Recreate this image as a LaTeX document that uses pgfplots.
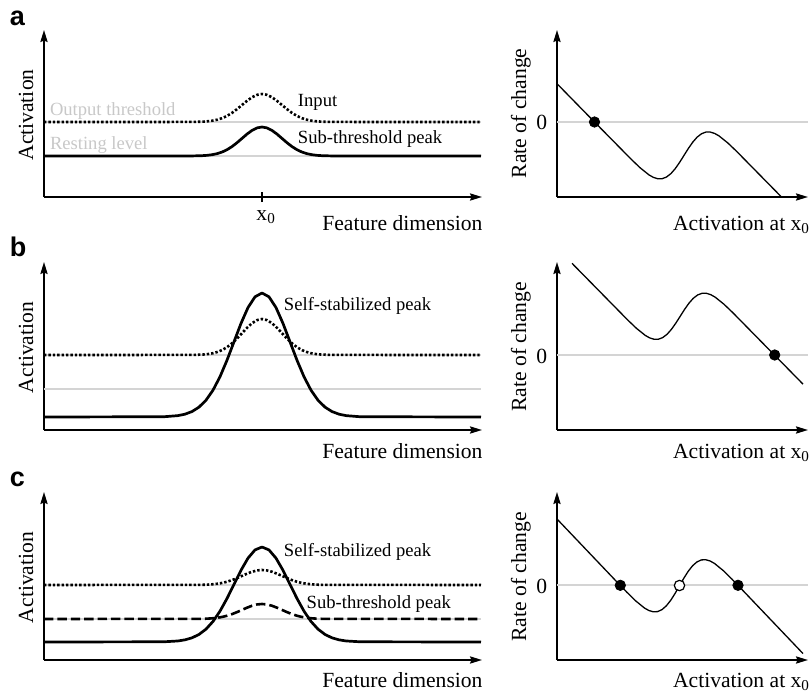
\documentclass[border=0pt]{standalone}
\usepackage{fontspec}
\setmainfont{Liberation Serif}
\setsansfont{Liberation Sans}
\usepackage{pgfplots}
\pgfplotsset{compat=1.18}
\usetikzlibrary{arrows.meta}
\definecolor{lightline}{RGB}{212,212,212}
\definecolor{lighttext}{RGB}{200,200,200}
\newcommand{\axfont}{\fontsize{10.8}{13}\selectfont}
\newcommand{\lblfont}{\fontsize{9.3}{11}\selectfont}
\newcommand{\pfont}{\fontsize{13.5}{16}\selectfont\sffamily\bfseries}
\pgfplotsset{
  panel/.style={scale only axis, axis lines=left, xtick=\empty, ytick=\empty,
    xmin=0, ymin=0, clip=false, anchor=south west,
    axis line style={line width=0.9pt, black},
    x axis line style={-{Stealth[length=6pt,width=3.6pt,inset=0.8pt]}},
    y axis line style={-{Stealth[length=6pt,width=3.6pt,inset=0.8pt]}}},
  leftpanel/.style={panel, width=219pt, xmax=438},
  rightpanel/.style={panel, width=125.5pt, xmax=251},
  grayline/.style={draw=lightline, line width=0.55pt, no marks},
  profile/.style={black, line width=1.35pt, no marks, line join=round},
  dotprof/.style={black, line width=1.3pt, no marks, dash pattern=on 1.2pt off 1pt},
  dashprof/.style={black, line width=1.3pt, no marks, dash pattern=on 4.7pt off 2pt},
  rate/.style={black, line width=0.65pt, no marks, line join=round},
  fixdot/.style={only marks, mark=*, mark size=2.6pt, mark options={fill=black, draw=black}},
  opendot/.style={only marks, mark=*, mark size=2.6pt, mark options={fill=white, draw=black, line width=0.6pt}},
}
\begin{document}
\begin{tikzpicture}
\useasboundingbox (0pt,0pt) rectangle (405.5pt,-345.5pt);

% ---------------- a left
\begin{axis}[leftpanel, at={(22pt,-98.5pt)}, height=83.5pt, ymax=167,
  xtick={218}, xticklabels={}, major tick length=5pt, tick align=center,
  tick style={black, line width=0.9pt}]
\addplot[grayline] coordinates {(0,75) (437,75)};
\addplot[grayline] coordinates {(0,41) (437,41)};
\addplot[dotprof] coordinates {(0,75) (148,75.06) (158,75.31) (163,75.64) (168,76.23) (173,77.23) (178,78.79) (183,81.06) (188,84.09) (193,87.82) (198,91.98) (203,96.13) (208,99.71) (213,102.14) (218,103) (223,102.14) (228,99.71) (233,96.13) (238,91.98) (243,87.82) (248,84.09) (253,81.06) (258,78.79) (263,77.23) (268,76.23) (273,75.64) (278,75.31) (288,75.06) (437,75)};
\addplot[profile] coordinates {(0,41) (148,41.06) (158,41.32) (163,41.66) (168,42.27) (173,43.31) (178,44.92) (183,47.27) (188,50.42) (193,54.28) (198,58.59) (203,62.89) (208,66.59) (213,69.11) (218,70) (223,69.11) (228,66.59) (233,62.89) (238,58.59) (243,54.28) (248,50.42) (253,47.27) (258,44.92) (263,43.31) (268,42.27) (273,41.66) (278,41.32) (288,41.06) (437,41)};
\end{axis}

% ---------------- a right
\begin{axis}[rightpanel, at={(278.5pt,-98.5pt)}, height=83.5pt, ymax=167]
\addplot[grayline] coordinates {(0,75) (251,75)};
\addplot[rate] coordinates {(0,113.3) (37.5,75) (74.5,37.46) (83.25,29.10) (92,22.10) (96.375,19.64) (100.75,18.26) (105.125,18.29) (109.5,19.97) (113.875,23.37) (118.25,28.37) (122.625,34.65) (127,41.61) (131.375,48.57) (135.75,54.84) (140.125,59.85) (144.5,63.25) (148.875,64.93) (153.25,64.95) (157.625,63.58) (162,61.12) (170.75,54.11) (179.5,45.76) (224,0.52)};
\addplot[fixdot] coordinates {(37.5,75)};
\end{axis}

% ---------------- b left
\begin{axis}[leftpanel, at={(22pt,-215pt)}, height=84pt, ymax=168]
\addplot[grayline] coordinates {(0,75) (437,75)};
\addplot[grayline] coordinates {(0,41) (437,41)};
\addplot[dotprof] coordinates {(0,75) (148,75.08) (158,75.40) (163,75.82) (168,76.58) (173,77.87) (178,79.87) (183,82.79) (188,86.69) (193,91.48) (198,96.83) (203,102.17) (208,106.77) (213,109.89) (218,111) (223,109.89) (228,106.77) (233,102.17) (238,96.83) (243,91.48) (248,86.69) (253,82.79) (258,79.87) (263,77.87) (268,76.58) (273,75.82) (278,75.40) (288,75.08) (437,75)};
\addplot[profile] coordinates {(0,13) (120,13.27) (134,14.38) (141,15.83) (148,18.44) (155,22.87) (162,29.78) (169,39.82) (176,53.26) (183,69.77) (190,88.21) (197,106.60) (204,122.43) (211,133.18) (218,137) (225,133.18) (232,122.43) (239,106.60) (246,88.21) (253,69.77) (260,53.26) (267,39.82) (274,29.78) (281,22.87) (288,18.44) (295,15.83) (302,14.38) (316,13.27) (437,13)};
\end{axis}

% ---------------- b right
\begin{axis}[rightpanel, at={(278.5pt,-215pt)}, height=84pt, ymax=168]
\addplot[grayline] coordinates {(0,75) (251,75)};
\addplot[rate] coordinates {(15,166.7) (70.7,110.04) (79.45,101.67) (88.2,94.66) (92.575,92.17) (96.95,90.78) (101.325,90.77) (105.7,92.41) (110.075,95.73) (114.45,100.68) (118.825,106.87) (123.2,113.74) (127.575,120.60) (131.95,126.79) (136.325,131.74) (140.7,135.07) (145.075,136.70) (149.45,136.69) (153.825,135.30) (158.2,132.82) (166.95,125.80) (175.7,117.44) (217.7,74.7) (246,45.88)};
\addplot[fixdot] coordinates {(217.7,75)};
\end{axis}

% ---------------- c left
\begin{axis}[leftpanel, at={(22pt,-330pt)}, height=84pt, ymax=168]
\addplot[grayline] coordinates {(0,75) (437,75)};
\addplot[grayline] coordinates {(0,41) (437,41)};
\addplot[dotprof] coordinates {(0,75) (158,75.17) (163,75.34) (168,75.66) (173,76.19) (178,77.03) (183,78.24) (188,79.87) (193,81.87) (198,84.10) (203,86.32) (208,88.24) (213,89.54) (218,90) (223,89.54) (228,88.24) (233,86.32) (238,84.10) (243,81.87) (248,79.87) (253,78.24) (258,77.03) (263,76.19) (268,75.66) (273,75.34) (278,75.17) (437,75)};
\addplot[dashprof] coordinates {(0,41) (158,41.17) (163,41.34) (168,41.66) (173,42.19) (178,43.03) (183,44.24) (188,45.87) (193,47.87) (198,50.10) (203,52.32) (208,54.24) (213,55.54) (218,56) (223,55.54) (228,54.24) (233,52.32) (238,50.10) (243,47.87) (248,45.87) (253,44.24) (258,43.03) (263,42.19) (268,41.66) (273,41.34) (278,41.17) (437,41)};
\addplot[profile] coordinates {(0,18) (120,18.21) (134,19.05) (141,20.17) (148,22.17) (155,25.56) (162,30.85) (169,38.55) (176,48.85) (183,61.49) (190,75.62) (197,89.71) (204,101.84) (211,110.07) (218,113) (225,110.07) (232,101.84) (239,89.71) (246,75.62) (253,61.49) (260,48.85) (267,38.55) (274,30.85) (281,25.56) (288,22.17) (295,20.17) (302,19.05) (316,18.21) (437,18)};
\end{axis}

% ---------------- c right
\begin{axis}[rightpanel, at={(278.5pt,-330pt)}, height=84pt, ymax=168]
\addplot[grayline] coordinates {(0,75) (251,75)};
\addplot[rate] coordinates {(0,141) (63.3,74.5) (70,67.66) (78.75,59.08) (87.5,51.94) (91.875,49.49) (96.25,48.21) (100.625,48.41) (105,50.39) (109.375,54.20) (113.75,59.74) (118.125,66.63) (122.5,74.25) (126.875,81.87) (131.25,88.76) (135.625,94.30) (140,98.11) (144.375,100.09) (148.75,100.29) (153.125,99.01) (157.5,96.55) (166.25,89.42) (175,80.84) (181,74.64) (246,6.45)};
\addplot[fixdot] coordinates {(63.3,74.7) (181,74.7)};
\addplot[opendot] coordinates {(122.5,74.5)};
\end{axis}

% ---------------- texts (reference pixel coordinates)
\begin{scope}[x=0.5pt, y=-0.5pt, every node/.style={inner sep=0pt, outer sep=0pt}]
\node[anchor=base west, font=\pfont] at (10,25) {a};
\node[anchor=base west, font=\pfont] at (10,256) {b};
\node[anchor=base west, font=\pfont] at (10,486) {c};

\foreach \yc/\yb in {115/230, 347.5/458, 577.5/687}{
  \node[rotate=90, anchor=base, font=\axfont] at (33,\yc) {Activation};
  \node[anchor=base east, font=\axfont] at (482.5,\yb) {Feature dimension};
  \node[anchor=base east, font=\axfont] at (810,\yb) {Activation at x\textsubscript{0}};
}
\foreach \yc in {113.3, 346.7, 576.7}{
  \node[rotate=90, anchor=base, font=\axfont] at (526,\yc) {Rate of change};
}
\node[font=\axfont] at (541.7,122.5) {0};
\node[font=\axfont] at (541.7,356) {0};
\node[font=\axfont] at (541.7,586.3) {0};

\node[anchor=base west, font=\axfont] at (256.5,220) {x\textsubscript{0}};

\node[anchor=base west, font=\lblfont, text=lighttext] at (50,115) {Output threshold};
\node[anchor=base west, font=\lblfont, text=lighttext] at (50,149.5) {Resting level};
\node[anchor=base west, font=\lblfont] at (298,106) {Input};
\node[anchor=base west, font=\lblfont] at (298,143) {Sub-threshold peak};
\node[anchor=base west, font=\lblfont] at (284,310) {Self-stabilized peak};
\node[anchor=base west, font=\lblfont] at (284,556.5) {Self-stabilized peak};
\node[anchor=base west, font=\lblfont] at (306.7,608.3) {Sub-threshold peak};
\end{scope}
\end{tikzpicture}
\end{document}
